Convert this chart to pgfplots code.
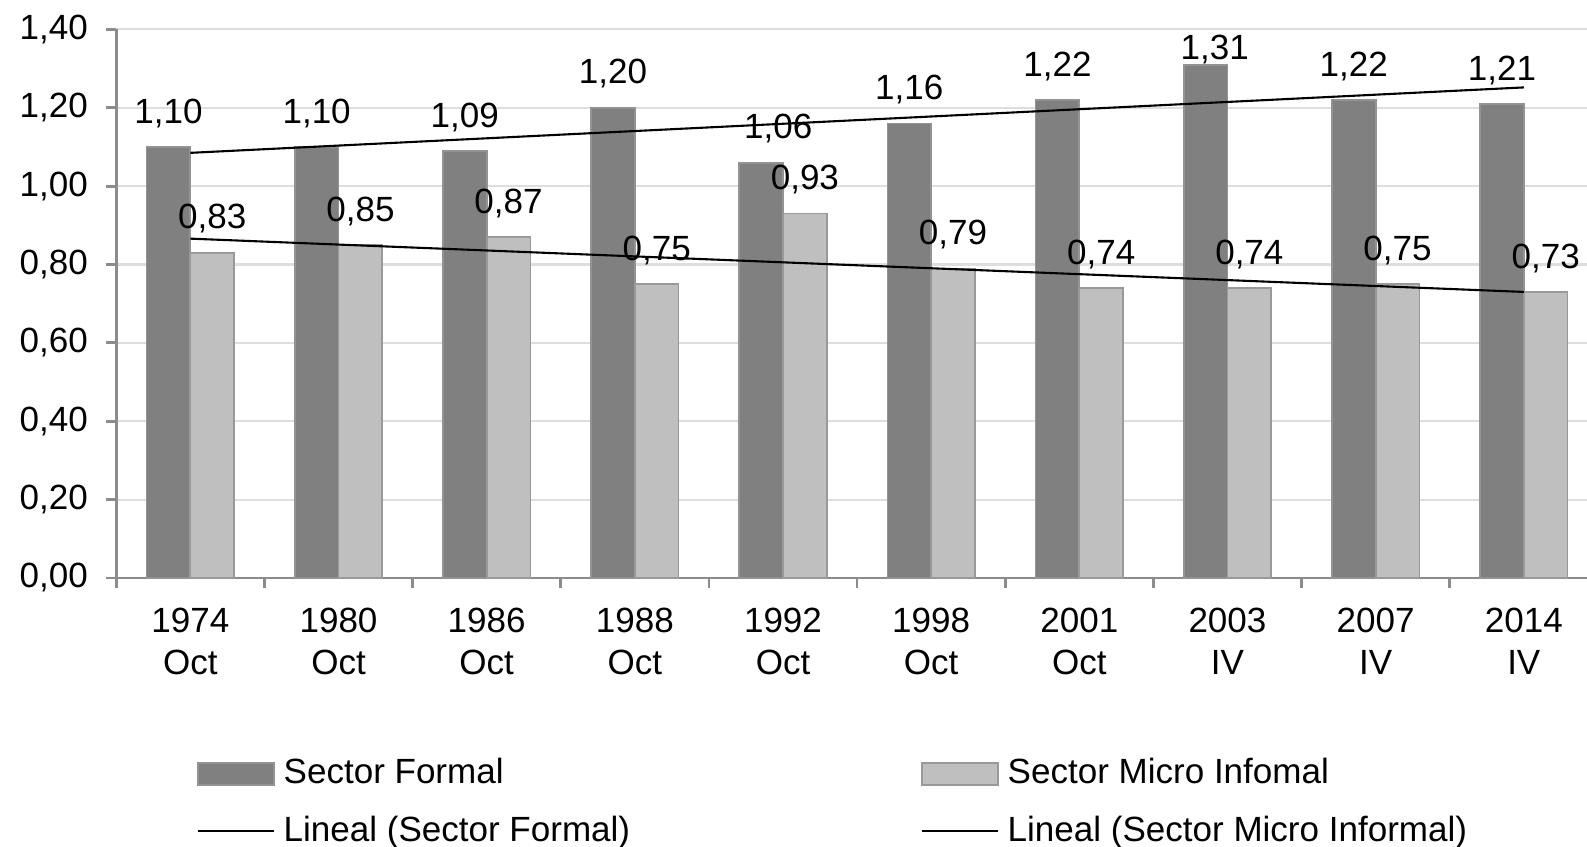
\documentclass[border=0pt]{standalone}
\usepackage{fontspec}
\setmainfont{Liberation Sans}
\usepackage{pgfplots}
\pgfplotsset{compat=1.18}

\definecolor{formal}{HTML}{808080}
\definecolor{informal}{HTML}{BFBFBF}
\definecolor{axisgray}{HTML}{8C8C8C}
\definecolor{gridgray}{HTML}{DEDEDE}

\pgfplotsset{
    barleg/.style={legend image code/.code={\draw[##1] (0pt,-3.2pt) rectangle (21.7pt,3.2pt);}},
    lineleg/.style={legend image code/.code={\draw[##1] (0pt,0pt) -- (21.7pt,0pt);}},
    lbl/.style={forget plot, only marks, mark=none, point meta=y,
        nodes near coords={\pgfmathprintnumber[fixed,fixed zerofill,precision=2,use comma]{\pgfplotspointmeta}}},
}

\begin{document}
\begin{tikzpicture}
\begin{axis}[
    scale only axis,
    width=423pt, height=156.6pt,
    xmin=-0.5, xmax=9.5,
    ymin=0, ymax=1.4,
    clip=false,
    axis x line*=bottom, axis y line*=left,
    axis line style={axisgray, line width=0.8pt},
    tick align=outside,
    major tick length=3pt,
    tick style={axisgray, line width=0.8pt},
    ytick={0,0.2,0.4,0.6,0.8,1.0,1.2,1.4},
    ymajorgrids,
    grid style={gridgray, line width=0.6pt},
    /pgf/number format/assume math mode=true,
    yticklabel style={xshift=-1.6pt, /pgf/number format/.cd, fixed, fixed zerofill, precision=2, use comma},
    xtick={-0.5,0.5,1.5,2.5,3.5,4.5,5.5,6.5,7.5,8.5,9.5},
    xticklabels={},
    extra x ticks={0,1,2,3,4,5,6,7,8,9},
    extra x tick labels={{1974\\Oct},{1980\\Oct},{1986\\Oct},{1988\\Oct},{1992\\Oct},
        {1998\\Oct},{2001\\Oct},{2003\\IV},{2007\\IV},{2014\\IV}},
    extra x tick style={major tick length=0pt},
    xticklabel style={align=center, yshift=-5pt},
    legend columns=2,
    legend cell align=left,
    legend style={draw=none, fill=none, inner sep=0pt,
        at={(axis description cs:0.0539,-0.3216)}, anchor=north west,
        row sep=5.6pt, nodes={inner sep=1pt},
        /tikz/every odd column/.append style={column sep=1.5pt},
        /tikz/every even column/.append style={column sep=82pt}},
]
% bars
\addplot[ybar, bar width=12.5pt, bar shift=-6.25pt, fill=formal, draw=formal!85!white, line width=0.5pt, barleg]
    coordinates {(0,1.10) (1,1.10) (2,1.09) (3,1.20) (4,1.06) (5,1.16) (6,1.22) (7,1.31) (8,1.22) (9,1.21)};
\addlegendentry{Sector Formal}
\addplot[ybar, bar width=12.5pt, bar shift=6.25pt, fill=informal, draw=gray!80, line width=0.5pt, barleg]
    coordinates {(0,0.83) (1,0.85) (2,0.87) (3,0.75) (4,0.93) (5,0.79) (6,0.74) (7,0.74) (8,0.75) (9,0.73)};
\addlegendentry{Sector Micro Infomal}
% trend lines
\addplot[black, line width=0.6pt, sharp plot, mark=none, lineleg]
    coordinates {(0,1.085) (9,1.252)};
\addlegendentry{Lineal (Sector Formal)}
\addplot[black, line width=0.6pt, sharp plot, mark=none, lineleg]
    coordinates {(0,0.866) (9,0.730)};
\addlegendentry{Lineal (Sector Micro Informal)}
% data labels
\addplot[lbl, every node near coord/.append style={xshift=-6.25pt, yshift=2pt, text=black}]
    coordinates {(0,1.10) (1,1.10) (2,1.09) (3,1.20) (5,1.16) (6,1.22) (8,1.22) (9,1.21)};
\addplot[lbl, every node near coord/.append style={xshift=-1.35pt, yshift=2pt, text=black}]
    coordinates {(4,1.06)};
\addplot[lbl, every node near coord/.append style={xshift=-3.65pt, yshift=-3.2pt, text=black}]
    coordinates {(7,1.31)};
\addplot[lbl, every node near coord/.append style={xshift=6.25pt, yshift=2pt, text=black}]
    coordinates {(0,0.83) (1,0.85) (2,0.87) (3,0.75) (4,0.93) (5,0.79) (6,0.74) (7,0.74) (8,0.75) (9,0.73)};
\end{axis}
\pgfresetboundingbox
\path[use as bounding box] (-33.2pt,-76.6pt) rectangle (419.9pt,165pt);
\end{tikzpicture}
\end{document}
